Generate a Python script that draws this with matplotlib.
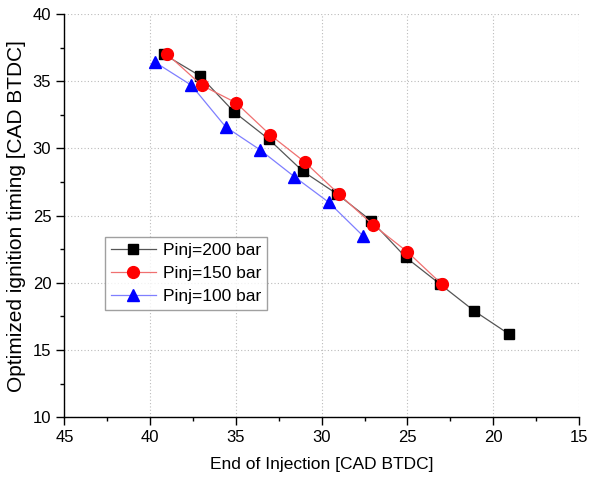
import matplotlib
matplotlib.use("Agg")
import matplotlib.pyplot as plt
from matplotlib.ticker import MultipleLocator

plt.rcParams['font.family'] = ['Liberation Sans', 'DejaVu Sans']

# Data
eoi_200 = [39.2, 37.1, 35.1, 33.1, 31.1, 29.1, 27.1, 25.1, 23.1, 21.1, 19.1]
ign_200 = [37.0, 35.4, 32.7, 30.7, 28.3, 26.6, 24.6, 21.9, 19.9, 17.9, 16.2]

eoi_150 = [39.0, 37.0, 35.0, 33.0, 31.0, 29.0, 27.0, 25.0, 23.0]
ign_150 = [37.0, 34.7, 33.4, 31.0, 29.0, 26.6, 24.3, 22.3, 19.9]

eoi_100 = [39.7, 37.6, 35.6, 33.6, 31.6, 29.6, 27.6]
ign_100 = [36.4, 34.7, 31.6, 29.9, 27.9, 26.0, 23.5]

labels = ['Pinj=200 bar', 'Pinj=150 bar', 'Pinj=100 bar']
x_label = 'End of Injection [CAD BTDC]'
y_label = 'Optimized ignition timing [CAD BTDC]'

fig = plt.figure(figsize=(5.89, 4.84), dpi=100)
ax = fig.add_axes([0.1095, 0.138, 0.8735, 0.833])

ax.plot(eoi_200, ign_200, color='#555555', lw=0.9, marker='s', ms=7.5,
        mfc='black', mec='black', label=labels[0], zorder=3)
ax.plot(eoi_150, ign_150, color='#f07070', lw=0.9, marker='o', ms=8.5,
        mfc='red', mec='red', label=labels[1], zorder=4)
ax.plot(eoi_100, ign_100, color='#7f7fff', lw=0.9, marker='^', ms=8.5,
        mfc='blue', mec='blue', label=labels[2], zorder=2)

ax.set_xlim(45, 15)
ax.set_ylim(10, 40)
ax.xaxis.set_major_locator(MultipleLocator(5))
ax.xaxis.set_minor_locator(MultipleLocator(2.5))
ax.yaxis.set_major_locator(MultipleLocator(5))
ax.yaxis.set_minor_locator(MultipleLocator(2.5))
ax.tick_params(which='major', direction='out', length=6, width=1, labelsize=12, colors='black')
ax.tick_params(which='minor', direction='out', length=3, width=1)
ax.grid(True, which='major', linestyle=(0, (1, 2)), color='#bbbbbb', lw=0.8)
for s in ['top', 'right']:
    ax.spines[s].set_visible(False)
for s in ['left', 'bottom']:
    ax.spines[s].set_linewidth(1.0)

ax.set_xlabel(x_label, fontsize=12.5, labelpad=8)
ax.set_ylabel(y_label, fontsize=15, labelpad=5)

leg = ax.legend(loc='lower left', bbox_to_anchor=(0.078, 0.265), fontsize=12.5,
                frameon=True, fancybox=False, edgecolor='#888888',
                handlelength=2.6, borderpad=0.35, labelspacing=0.45,
                handletextpad=0.4, borderaxespad=0)
leg.get_frame().set_linewidth(1.0)

fig.savefig('out.png', dpi=100)
